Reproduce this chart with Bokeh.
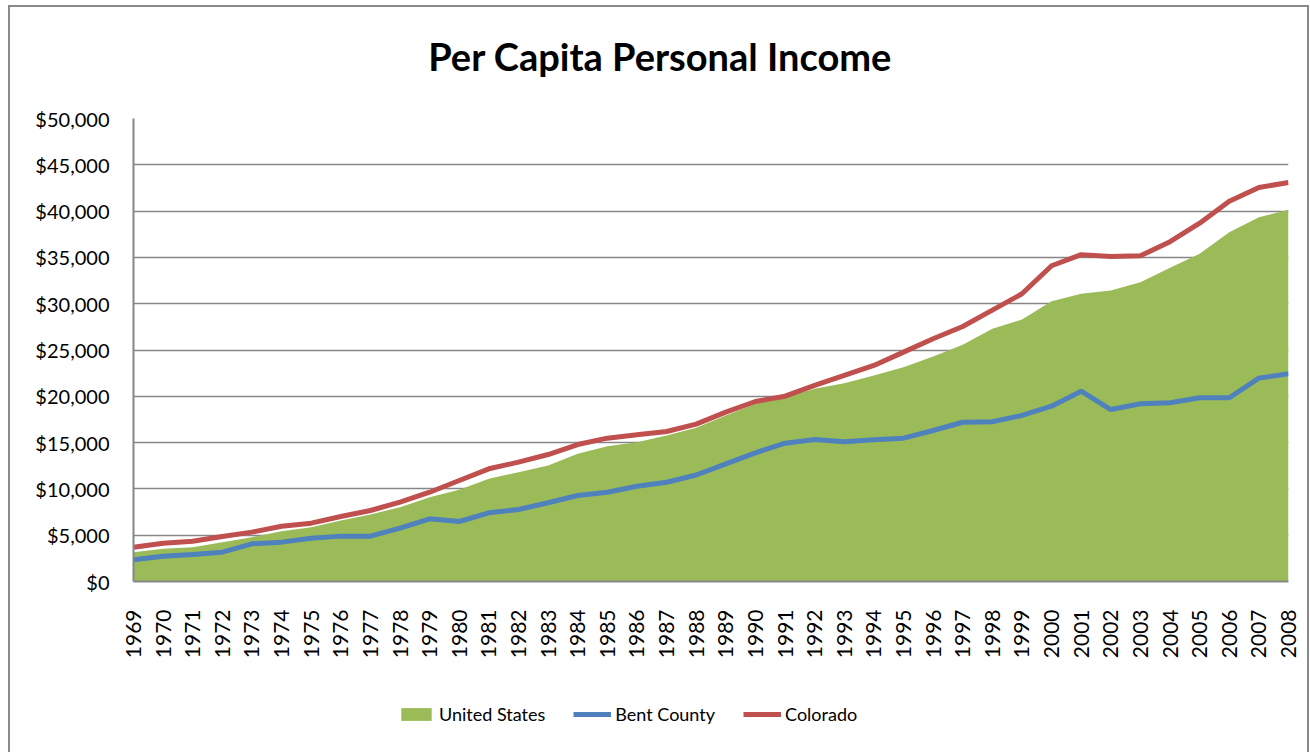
import math
from bokeh.plotting import figure
from bokeh.layouts import column
from bokeh.models import (FixedTicker, NumeralTickFormatter, Legend, LegendItem, Range1d, Label)
from bokeh.embed import file_html
from bokeh.resources import INLINE

years = [1969, 1970, 1971, 1972, 1973, 1974, 1975, 1976, 1977, 1978,
         1979, 1980, 1981, 1982, 1983, 1984, 1985, 1986, 1987, 1988,
         1989, 1990, 1991, 1992, 1993, 1994, 1995, 1996, 1997, 1998,
         1999, 2000, 2001, 2002, 2003, 2004, 2005, 2006, 2007, 2008]

united_states = [3170, 3530, 3700, 4250, 4790, 5430, 5860, 6590, 7240, 8030,
                 9100, 9900, 11090, 11800, 12530, 13790, 14610, 15040, 15770, 16600,
                 17930, 19190, 19900, 20810, 21420, 22250, 23140, 24300, 25560, 27290,
                 28290, 30270, 31070, 31430, 32320, 33870, 35390, 37720, 39340, 40140]

bent_county = [2340, 2730, 2920, 3170, 4070, 4250, 4680, 4900, 4900, 5760,
               6770, 6480, 7420, 7780, 8500, 9290, 9640, 10290, 10720, 11500,
               12710, 13900, 14940, 15330, 15090, 15300, 15480, 16310, 17200, 17250,
               17930, 18930, 20550, 18570, 19190, 19300, 19840, 19840, 21960, 22430]

colorado = [3700, 4140, 4350, 4860, 5330, 5970, 6300, 7020, 7670, 8570,
            9640, 10910, 12170, 12890, 13710, 14790, 15480, 15840, 16200, 17000,
            18290, 19440, 20010, 21170, 22250, 23330, 24770, 26210, 27540, 29300,
            31070, 34100, 35300, 35100, 35170, 36700, 38700, 41070, 42550, 43090]

y_ticks = [0, 5000, 10000, 15000, 20000, 25000, 30000, 35000, 40000, 45000, 50000]

title_text = "Per Capita Personal Income"
series_names = ["United States", "Bent County", "Colorado"]

GREEN = "#9BBB59"
BLUE = "#4F81BD"
RED = "#C0504D"
GRID = "#868686"
BORDER = "2px solid #8a8a8a"
FONT = "Lato"


def strip(height, margin, styles):
    f = figure(width=1301, height=height, output_backend="svg", toolbar_location=None,
               x_range=Range1d(0, 1), y_range=Range1d(0, 1),
               min_border_left=0, min_border_right=0, min_border_top=0, min_border_bottom=0)
    f.margin = margin
    f.styles = styles
    f.axis.visible = False
    f.grid.visible = False
    f.outline_line_color = None
    f.background_fill_color = "white"
    f.border_fill_color = "white"
    return f


# ---------------- title strip ----------------
tt = strip(93, (5, 0, 0, 8), {"border-top": BORDER, "border-left": BORDER,
                              "border-right": BORDER})
tt.add_layout(Label(x=0.456, y=0.48, text=title_text, text_align="center",
                    text_baseline="alphabetic", text_font=FONT, text_font_style="bold",
                    text_font_size="38px", text_color="black"))

# ---------------- main chart ----------------
p = figure(width=1301, height=587, output_backend="svg", toolbar_location=None,
           x_range=Range1d(years[0], years[-1]), y_range=Range1d(y_ticks[0], y_ticks[-1]),
           min_border_left=123, min_border_right=23, min_border_top=20,
           min_border_bottom=104)
p.margin = (0, 0, 0, 8)
p.styles = {"border-left": BORDER, "border-right": BORDER}
p.outline_line_color = None
p.background_fill_color = "white"
p.border_fill_color = "white"

p.varea(x=years, y1=[0] * len(years), y2=united_states, fill_color=GREEN)
p.line(x=years, y=bent_county, line_color=BLUE, line_width=5)
p.line(x=years, y=colorado, line_color=RED, line_width=5)

p.xaxis.ticker = FixedTicker(ticks=years)
p.xaxis.major_label_orientation = math.pi / 2
p.xaxis.major_label_text_font = FONT
p.xaxis.major_label_text_font_size = "21px"
p.xaxis.major_label_text_color = "black"
p.xaxis.major_label_standoff = 28
p.xaxis.major_tick_out = 0
p.xaxis.major_tick_in = 0
p.xaxis.minor_tick_out = 0
p.xaxis.minor_tick_in = 0
p.xaxis.axis_line_color = GRID
p.xaxis.axis_line_width = 2

p.yaxis.ticker = FixedTicker(ticks=y_ticks)
p.yaxis.formatter = NumeralTickFormatter(format="$0,0")
p.yaxis.major_label_text_font = FONT
p.yaxis.major_label_text_font_size = "20px"
p.yaxis.major_label_text_color = "black"
p.yaxis.major_label_standoff = 24
p.yaxis.major_tick_out = 0
p.yaxis.major_tick_in = 0
p.yaxis.minor_tick_out = 0
p.yaxis.minor_tick_in = 0
p.yaxis.axis_line_color = GRID
p.yaxis.axis_line_width = 2

p.xgrid.grid_line_color = None
p.ygrid.grid_line_color = GRID
p.ygrid.grid_line_width = 1.5

# ---------------- legend strip ----------------
# The strip's ranges lie outside the data, so its series only feed the legend.
lg = strip(67, (0, 0, 0, 8), {"border-left": BORDER, "border-right": BORDER})
l_us = lg.varea(x=years, y1=[0] * len(years), y2=united_states, fill_color=GREEN)
l_bent = lg.line(x=years, y=bent_county, line_color=BLUE, line_width=5)
l_co = lg.line(x=years, y=colorado, line_color=RED, line_width=5)

legend = Legend(items=[LegendItem(label=series_names[0], renderers=[l_us]),
                       LegendItem(label=series_names[1], renderers=[l_bent]),
                       LegendItem(label=series_names[2], renderers=[l_co])],
                orientation="horizontal", location=(264, 27),
                glyph_width=38, glyph_height=16, label_height=20,
                label_standoff=4, spacing=28, padding=0, margin=0,
                border_line_color=None, background_fill_alpha=0,
                label_text_font=FONT, label_text_font_size="18px",
                label_text_color="black")
lg.add_layout(legend, "center")

layout = column(tt, p, lg, spacing=0)
open("out.html", "w").write(file_html(layout, INLINE))
